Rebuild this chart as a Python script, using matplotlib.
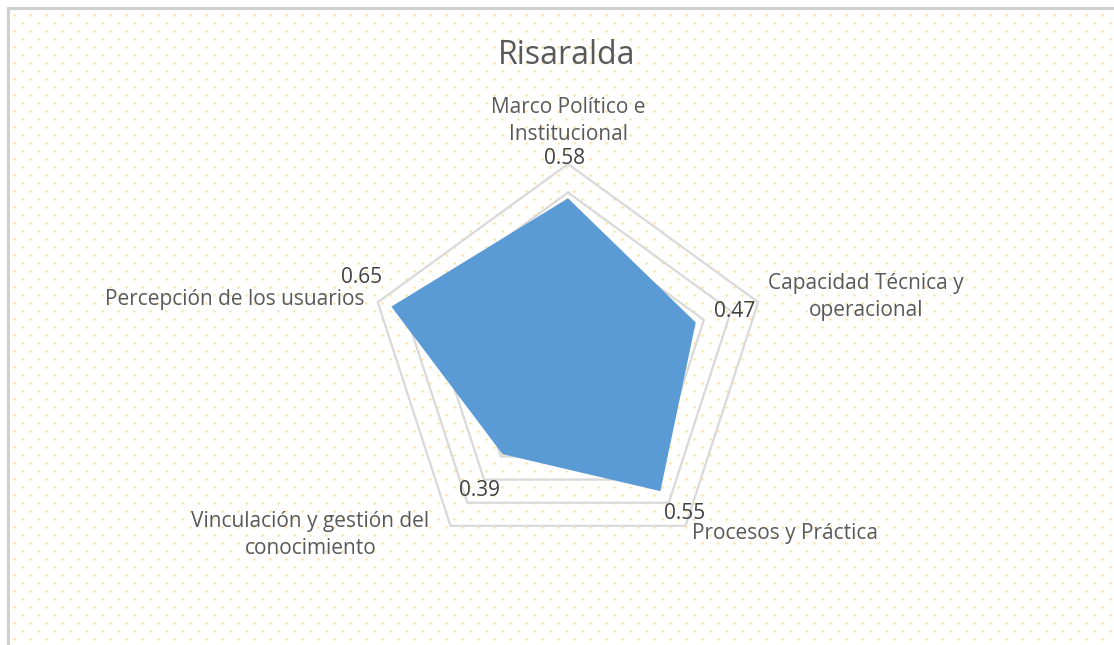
import matplotlib
matplotlib.use("Agg")
import matplotlib.pyplot as plt
import numpy as np

# data
title = "Risaralda"
categories = [
    "Marco Político e\nInstitucional",
    "Capacidad Técnica y\noperacional",
    "Procesos y Práctica",
    "Vinculación y gestión del\nconocimiento",
    "Percepción de los usuarios",
]
values = [0.58, 0.47, 0.55, 0.39, 0.65]
grid_levels = [0.1, 0.2, 0.3, 0.4, 0.5, 0.6, 0.7]

FONT = ["Open Sans", "DejaVu Sans"]
W, H = 1114, 645

fig = plt.figure(figsize=(W / 100, H / 100), dpi=100)
fig.patch.set_facecolor("white")

# background: dotted texture + light frame on left/top
bg = fig.add_axes([0, 0, 1, 1])
bg.set_xlim(0, W)
bg.set_ylim(H, 0)
bg.axis("off")
xs, ys = [], []
for j, y in enumerate(np.arange(15, H, 8)):
    for x in np.arange(14 + 8 * (j % 2), W, 16):
        xs.append(x); ys.append(y)
bg.scatter(xs, ys, s=3.6, c="#f6d160", alpha=0.55, linewidths=0, zorder=0)
bg.plot([8, 8], [8, H], color="#d0d0d0", lw=2.2, zorder=1)
bg.plot([8, W], [8, 8], color="#d0d0d0", lw=2.2, zorder=1)

# radar axes: centre at (568, 364) px, 0.7 -> 200 px
cx, cy, half = 568, 364, 250
ax = fig.add_axes([(cx - half) / W, (H - cy - half) / H, 2 * half / W, 2 * half / H])
lim = 0.7 * half / 200
ax.set_xlim(-lim, lim)
ax.set_ylim(-lim, lim)
ax.axis("off")

n = len(categories)
ang = np.pi / 2 - 2 * np.pi * np.arange(n) / n
ca, sa = np.cos(ang), np.sin(ang)

for lv in grid_levels:
    gx = np.append(lv * ca, lv * ca[0])
    gy = np.append(lv * sa, lv * sa[0])
    ax.plot(gx, gy, color="#d9d9d9", lw=1.6, zorder=1)

v = np.array(values)
ax.fill(v * ca, v * sa, color="#5b9bd5", zorder=2, linewidth=0)

# data labels
dl_off = [(-3, 40), (39, 11), (24, -22), (-23, -36), (-30, 29)]
for i, val in enumerate(values):
    ax.annotate(f"{val:.2f}", (val * ca[i], val * sa[i]), xytext=dl_off[i],
                textcoords="offset pixels", ha="center", va="center",
                fontsize=15, color="#404040", family=FONT, zorder=4)

# category labels at the outer ring
rmax = grid_levels[-1]
cat_off = [(0, 43, "center"), (108, 5, "center"), (99, -8, "center"),
           (-140, -9, "center"), (-13, 3, "right")]
for i, lab in enumerate(categories):
    dx, dy, ha = cat_off[i]
    ax.annotate(lab, (rmax * ca[i], rmax * sa[i]), xytext=(dx, dy),
                textcoords="offset pixels", ha=ha, va="center",
                multialignment="center", fontsize=15, color="#595959",
                family=FONT, linespacing=1.4, zorder=4)

fig.text(567 / W, 1 - 55 / H, title, ha="center", va="center",
         fontsize=23, color="#595959", family=FONT)

fig.savefig("out.png", dpi=100)
